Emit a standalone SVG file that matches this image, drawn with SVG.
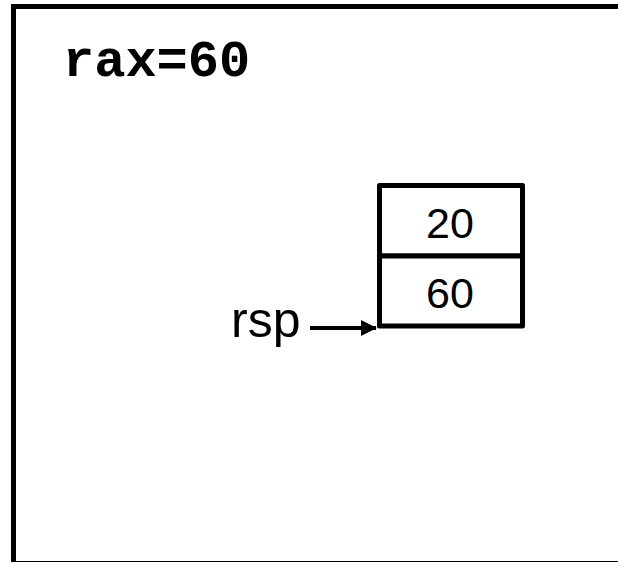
<svg xmlns="http://www.w3.org/2000/svg" width="618" height="562" viewBox="0 0 618 562">
  <style>
    .frame { fill: none; stroke: #000; stroke-width: 5; }
    .cell { fill: #fff; stroke: #000; stroke-width: 5; stroke-linejoin: round; }
    .val { font-family: "Liberation Sans", Arial, sans-serif; font-size: 43px; fill: #000; text-anchor: middle; }
    .lbl { font-family: "Liberation Sans", Arial, sans-serif; font-size: 50px; fill: #000; }
    .code { font-family: "Liberation Mono", "Courier New", monospace; font-weight: bold; font-size: 52px; fill: #000; }
    .edge { stroke: #000; stroke-width: 4; fill: none; }
  </style>
  <defs>
    <marker id="arrowhead" markerUnits="userSpaceOnUse" markerWidth="16" markerHeight="16" refX="15" refY="8" orient="auto">
      <path d="M0,0 L16,8 L0,16 Z" fill="#000"/>
    </marker>
  </defs>
  <rect width="618" height="562" fill="#fff"/>

  <!-- outer frame -->
  <rect class="frame" x="13.5" y="6.5" width="620" height="557"/>

  <g id="register">
    <text class="code" x="63" y="76">rax=60</text>
  </g>

  <g id="stack">
    <rect class="cell" x="379.5" y="185.5" width="143" height="70.5"/>
    <rect class="cell" x="379.5" y="256" width="143" height="70"/>
    <text class="val" x="450" y="238">20</text>
    <text class="val" x="450" y="308">60</text>
  </g>

  <g id="rsp">
    <text class="lbl" x="231" y="337">rsp</text>
  </g>

  <g id="connectors">
    <line class="edge" x1="310" y1="328" x2="376" y2="328" marker-end="url(#arrowhead)"/>
  </g>
</svg>
